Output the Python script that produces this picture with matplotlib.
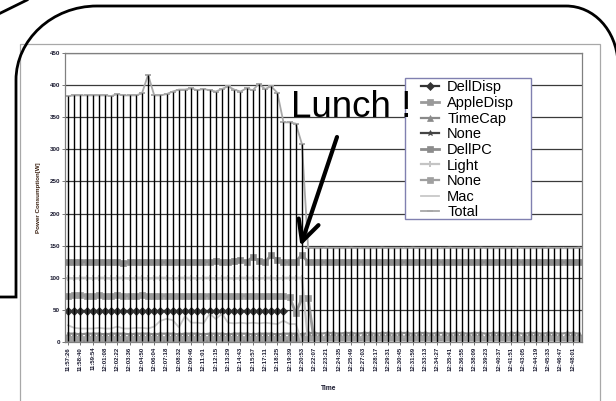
import matplotlib
matplotlib.use('Agg')
import matplotlib.pyplot as plt
import numpy as np
from matplotlib.patches import Rectangle, PathPatch
from matplotlib.path import Path

nan = float('nan')

time_labels = ['11:57:26', '11:58:40', '11:59:54', '12:01:08', '12:02:22', '12:03:36',
               '12:04:50', '12:06:04', '12:07:18', '12:08:32', '12:09:46', '12:11:01',
               '12:12:15', '12:13:29', '12:14:43', '12:15:57', '12:17:11', '12:18:25',
               '12:19:39', '12:20:53', '12:22:07', '12:23:21', '12:24:35', '12:25:49',
               '12:27:03', '12:28:17', '12:29:31', '12:30:45', '12:31:59', '12:33:13',
               '12:34:27', '12:35:41', '12:36:55', '12:38:09', '12:39:23', '12:40:37',
               '12:41:51', '12:43:05', '12:44:19', '12:45:33', '12:46:47', '12:48:01']

dell_disp = [48, 48, 48, 48, 48, 48, 48, 48, 48, 48, 48, 48,
             48, 48, 48, 48, 48, 48, 48, 48, 48, 48, 48, 48,
             48, 48, 48, 48, 48, 48, 48, 48, 48, 48, 48, 48,
             nan, nan, nan, nan, nan, nan, nan, nan, nan, nan, nan, nan,
             nan, nan, nan, nan, nan, nan, nan, nan, nan, nan, nan, nan,
             nan, nan, nan, nan, nan, nan, nan, nan, nan, nan, nan, nan,
             nan, nan, nan, nan, nan, nan, nan, nan, nan, nan, nan, nan]

apple_disp = [72, 73, 73, 72, 72, 73, 72, 72, 73, 72, 72, 72,
              73, 72, 72, 72, 72, 72, 72, 72, 72, 72, 72, 72,
              72, 72, 72, 72, 72, 72, 72, 72, 72, 72, 71, 71,
              70, 45, 68, 68, 0, 0, 0, 0, 0, 0, 0, 0,
              0, 0, 0, 0, 0, 0, 0, 0, 0, 0, 0, 0,
              0, 0, 0, 0, 0, 0, 0, 0, 0, 0, 0, 0,
              0, 0, 0, 0, 0, 0, 0, 0, 0, 0, 0, 0]

time_cap = [13, 13, 12, 13, 13, 13, 12, 13, 13, 13, 12, 13,
            13, 13, 12, 13, 13, 13, 12, 13, 13, 13, 12, 13,
            13, 13, 12, 13, 13, 13, 12, 13, 13, 13, 12, 13,
            13, 13, 12, 14, 14, 13, 14, 14, 13, 14, 14, 13,
            14, 14, 13, 14, 14, 13, 14, 14, 13, 14, 14, 13,
            14, 14, 13, 14, 14, 13, 14, 14, 13, 14, 14, 13,
            14, 14, 13, 14, 14, 13, 14, 14, 13, 14, 14, 13]

none_a = [2, 2, 2, 2, 2, 2, 2, 2, 2, 2, 2, 2,
          2, 2, 2, 2, 2, 2, 2, 2, 2, 2, 2, 2,
          2, 2, 2, 2, 2, 2, 2, 2, 2, 2, 2, 2,
          2, 2, 2, 2, 2, 2, 2, 2, 2, 2, 2, 2,
          2, 2, 2, 2, 2, 2, 2, 2, 2, 2, 2, 2,
          2, 2, 2, 2, 2, 2, 2, 2, 2, 2, 2, 2,
          2, 2, 2, 2, 2, 2, 2, 2, 2, 2, 2, 2]

dell_pc = [125, 124, 125, 125, 124, 125, 125, 124, 125, 123, 125, 125,
           124, 125, 125, 125, 124, 125, 125, 125, 125, 124, 125, 125,
           126, 125, 125, 126, 128, 125, 132, 126, 124, 135, 127, 125,
           124, 125, 136, 124, 124, 125, 124, 125, 124, 125, 124, 124,
           125, 124, 125, 124, 124, 125, 124, 125, 124, 124, 125, 124,
           125, 124, 124, 125, 124, 125, 124, 124, 125, 124, 125, 124,
           124, 125, 124, 125, 124, 124, 125, 124, 125, 124, 124, 125]

light = [100, 99, 100, 100, 99, 100, 100, 99, 100, 100, 99, 100,
         100, 99, 100, 100, 100, 99, 100, 100, 100, 99, 100, 100,
         99, 100, 100, 99, 100, 100, 100, 99, 100, 100, 99, 100,
         100, 100, 100, 0, 0, 0, 0, 0, 0, 0, 0, 0,
         0, 0, 0, 0, 0, 0, 0, 0, 0, 0, 0, 0,
         0, 0, 0, 0, 0, 0, 0, 0, 0, 0, 0, 0,
         0, 0, 0, 0, 0, 0, 0, 0, 0, 0, 0, 0]

none_b = [5, 5, 5, 5, 5, 5, 5, 5, 5, 5, 5, 5,
          5, 5, 5, 5, 5, 5, 5, 5, 5, 5, 5, 5,
          5, 5, 5, 5, 5, 5, 5, 5, 5, 5, 5, 5,
          5, 5, 5, 5, 5, 5, 5, 5, 5, 5, 5, 5,
          5, 5, 5, 5, 5, 5, 5, 5, 5, 5, 5, 5,
          5, 5, 5, 5, 5, 5, 5, 5, 5, 5, 5, 5,
          5, 5, 5, 5, 5, 5, 5, 5, 5, 5, 5, 5]

mac = [26, 22, 21, 21, 21, 22, 21, 21, 24, 21, 21, 22,
       22, 21, 24, 33, 36, 34, 23, 40, 30, 30, 29, 44,
       36, 44, 30, 29, 30, 29, 30, 29, 30, 29, 28, 33,
       28, 28, 0, 0, 0, 0, 0, 0, 0, 0, 0, 0,
       0, 0, 0, 0, 0, 0, 0, 0, 0, 0, 0, 0,
       0, 0, 0, 0, 0, 0, 0, 0, 0, 0, 0, 0,
       0, 0, 0, 0, 0, 0, 0, 0, 0, 0, 0, 0]

total = [383, 384, 384, 384, 384, 384, 384, 383, 386, 384, 384, 384,
         387, 416, 384, 384, 386, 390, 393, 393, 395, 392, 394, 392,
         390, 394, 398, 393, 390, 395, 392, 402, 394, 398, 388, 342,
         342, 340, 308, 147, 146, 146, 147, 146, 146, 146, 147, 146,
         146, 146, 146, 147, 146, 146, 146, 146, 147, 146, 146, 146,
         146, 146, 147, 146, 146, 146, 146, 147, 146, 146, 146, 146,
         146, 147, 146, 146, 146, 146, 147, 146, 146, 146, 146, 147]

series_names = ['DellDisp', 'AppleDisp', 'TimeCap', 'None', 'DellPC',
                'Light', 'None', 'Mac', 'Total']
series_values = [dell_disp, apple_disp, time_cap, none_a, dell_pc,
                 light, none_b, mac, total]
y_ticks = [0, 50, 100, 150, 200, 250, 300, 350, 400, 450]

styles = [
    dict(color='#333333', marker='D', ms=3.6, lw=1.6),
    dict(color='#9a9a9a', marker='s', ms=4.0, lw=2.0),
    dict(color='#8a8a8a', marker='^', ms=3.8, lw=1.6),
    dict(color='#444444', marker='*', ms=4.4, lw=1.6),
    dict(color='#8c8c8c', marker='s', ms=4.0, lw=2.0),
    dict(color='#c4c4c4', marker='+', ms=5.0, lw=1.6, mew=1.4),
    dict(color='#a0a0a0', marker='s', ms=3.8, lw=1.6),
    dict(color='#c8c8c8', marker=None, ms=0, lw=1.3),
    dict(color='#a8a8a8', marker='_', ms=5.0, lw=1.3, mew=1.4),
]

plt.rcParams['font.family'] = ['Liberation Sans', 'DejaVu Sans']

W, H = 616, 401
fig = plt.figure(figsize=(W / 100, H / 100), dpi=100)
fig.patch.set_facecolor('white')

# background (Excel chart frame)
bg = fig.add_axes([0, 0, 1, 1])
bg.set_xlim(0, W)
bg.set_ylim(H, 0)
bg.axis('off')
bg.add_patch(Rectangle((20, 44), 580, 400, fill=False, ec='#a8a8a8', lw=0.9))

# plot area
ax = fig.add_axes([65 / W, 1 - 342 / H, 517 / W, 289 / H])
n = len(total)
x = np.arange(n)
data = np.array(series_values, dtype=float)

handles = []
for vals, name, st in zip(series_values, series_names, styles):
    ln, = ax.plot(x, vals, color=st['color'], lw=st['lw'], marker=st['marker'],
                  ms=st['ms'], mew=st.get('mew', 0.5), mec=st['color'],
                  mfc=st['color'], zorder=2, label=name)
    handles.append(ln)

lo = np.nanmin(data, axis=0)
hi = np.nanmax(data, axis=0)
ax.vlines(x, lo, hi, color='black', lw=1.0, zorder=3)

ax.set_xlim(-0.5, n - 0.5)
ax.set_ylim(0, 450)
ax.set_yticks(y_ticks)
ax.set_yticklabels([str(v) for v in y_ticks], fontsize=4.5, color='#1a1a30',
                   fontweight='bold')
ax.set_xticks(np.arange(0, n, 2))
ax.set_xticklabels(time_labels, rotation=90, fontsize=4.3, color='#1a1a30',
                   fontweight='bold')
ax.tick_params(axis='both', length=2, width=0.6, pad=1.5, color='#606060')
ax.yaxis.grid(True, color='#3a3a3a', lw=0.9)
ax.set_axisbelow(True)
for s in ax.spines.values():
    s.set_color('#808080')
    s.set_linewidth(0.9)

# legend frame and entries
ax.add_patch(Rectangle((405, 78), 126, 141, transform=bg.transData, clip_on=False,
                       fc='white', ec='#8080b0', lw=1.0, zorder=5))
leg = ax.legend(handles, series_names, loc='upper left',
                bbox_to_anchor=(421 / W, 1 - 80.5 / H), bbox_transform=fig.transFigure,
                fontsize=10.5, frameon=False, borderpad=0, labelspacing=0.11,
                handlelength=1.2, handletextpad=0.6, borderaxespad=0)
leg.set_zorder(6)

fig.text(39 / W, 1 - 198 / H, 'Power Consumption[W]', rotation=90, fontsize=4.5,
         ha='center', va='center', color='#3a2010', fontweight='bold')
fig.text(329 / W, 1 - 388 / H, 'Time', fontsize=4.8, ha='center', va='center',
         color='#1a1a30', fontweight='bold')

# overlay annotations
ov = fig.add_axes([0, 0, 1, 1], zorder=10)
ov.set_xlim(0, W)
ov.set_ylim(H, 0)
ov.axis('off')
ov.patch.set_alpha(0)

verts = [(0, 297), (16, 297), (16, 80),
         (16, 40), (52, 6), (97, 6),
         (566, 6),
         (594, 6), (616, 30), (618, 62),
         (618, 401)]
codes = [Path.MOVETO, Path.LINETO, Path.LINETO,
         Path.CURVE4, Path.CURVE4, Path.CURVE4,
         Path.LINETO,
         Path.CURVE4, Path.CURVE4, Path.CURVE4,
         Path.LINETO]
ov.add_patch(PathPatch(Path(verts, codes), fill=False, ec='black', lw=2.0,
                       capstyle='butt', joinstyle='miter'))
ov.plot([0, 27], [13.3, 0], color='black', lw=2.0)

ov.text(291, 117, 'Lunch !', fontsize=26.5, ha='left', va='baseline', color='black')
ov.annotate('', xy=(300.5, 246), xytext=(337, 137),
            arrowprops=dict(arrowstyle='->,head_length=1.5,head_width=0.75',
                            lw=3.0, color='black', shrinkA=0, shrinkB=0,
                            mutation_scale=10))

fig.savefig('out.png', dpi=100)
